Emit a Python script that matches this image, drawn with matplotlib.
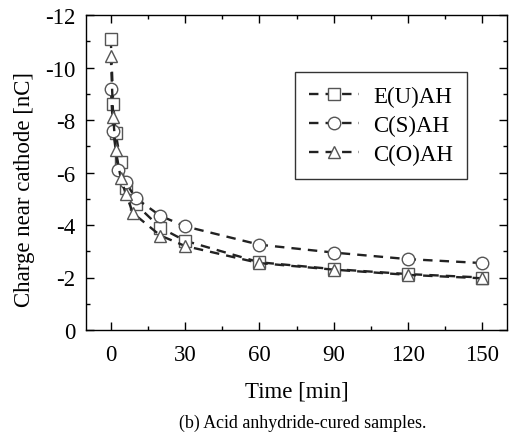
import matplotlib
matplotlib.use("Agg")
import matplotlib.pyplot as plt
from matplotlib.ticker import MultipleLocator

plt.rcParams['font.family'] = ['Liberation Serif', 'DejaVu Serif']
plt.rcParams['axes.unicode_minus'] = False

# Data
t_eu = [0, 1, 2, 4, 6, 10, 20, 30, 60, 90, 120, 150]
q_eu = [-11.1, -8.6, -7.5, -6.4, -5.4, -4.8, -3.9, -3.4, -2.58, -2.32, -2.13, -2.0]

t_cs = [0, 1, 3, 6, 10, 20, 30, 60, 90, 120, 150]
q_cs = [-9.2, -7.6, -6.1, -5.63, -5.03, -4.35, -3.95, -3.25, -2.95, -2.7, -2.55]

t_co = [0, 1, 2, 4, 6, 9, 20, 30, 60, 90, 120, 150]
q_co = [-10.45, -8.1, -6.85, -5.8, -5.2, -4.45, -3.6, -3.2, -2.55, -2.3, -2.1, -1.97]

labels = ["E(U)AH", "C(S)AH", "C(O)AH"]
markers = ["s", "o", "^"]
xticks = [0, 30, 60, 90, 120, 150]
yticks = [0, -2, -4, -6, -8, -10, -12]

fig = plt.figure(figsize=(5.11, 4.39), dpi=100)
ax = fig.add_axes([86/511, 1-331/439, (507-86)/511, (331-16)/439])

series = [(t_eu, q_eu), (t_cs, q_cs), (t_co, q_co)]
msizes = [8, 9, 9]
for (t, q), lab, m, ms in zip(series, labels, markers, msizes):
    ax.plot(t, q, linestyle=(0, (4, 3)), color='#222222', linewidth=1.7,
            marker=m, markersize=ms, markerfacecolor='white',
            markeredgecolor='#555555', markeredgewidth=1.0, label=lab)

ax.set_xlim(-10, 160)
ax.set_ylim(0, -12)
ax.set_xticks(xticks)
ax.set_yticks(yticks)
ax.xaxis.set_minor_locator(MultipleLocator(15))
ax.yaxis.set_minor_locator(MultipleLocator(1))
ax.tick_params(which='both', direction='in', top=True, right=True,
               labeltop=False, labelright=False, labelsize=16.5, width=1.0)
ax.tick_params(which='major', length=6)
ax.tick_params(which='minor', length=3)
ax.tick_params(axis='x', which='major', pad=10)
ax.tick_params(axis='y', which='major', pad=7.5)
for s in ax.spines.values():
    s.set_linewidth(1.0)

ax.set_xlabel("Time [min]", fontsize=16.5, labelpad=11)
ax.set_ylabel("Charge near cathode [nC]", fontsize=16.5)
ax.yaxis.set_label_coords(-51/421, (331-189.5)/315)

leg = ax.legend(loc='upper left', bbox_to_anchor=((295-86)/421, 1-(73-16)/315),
                fontsize=16.5, frameon=True, fancybox=False, edgecolor='black',
                handlelength=2.2, handletextpad=0.6, borderpad=0.6,
                labelspacing=0.35, borderaxespad=0)
leg.get_frame().set_linewidth(1.0)

fig.text(303/511, 1-423/439, "(b) Acid anhydride-cured samples.",
         ha='center', va='center', fontsize=12.9)

fig.savefig("out.png", dpi=100)
